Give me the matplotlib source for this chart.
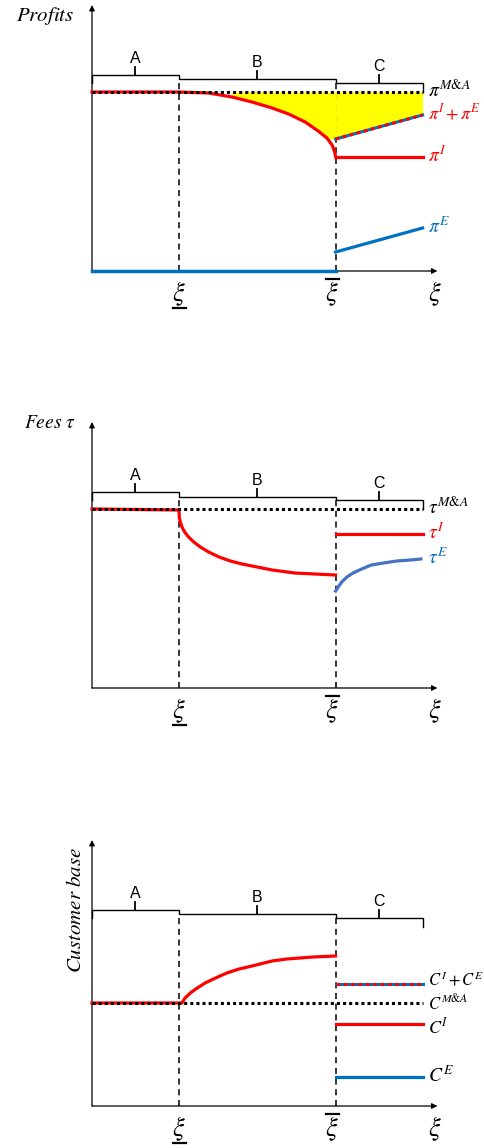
import numpy as np
import matplotlib.pyplot as plt

plt.rcParams['mathtext.fontset'] = 'stix'

W, H = 485, 1148

# thresholds on the xi axis (units of the lower threshold)
xi_lo = 1.0
xi_hi = 2.8
xi_end = 3.8
x_top = 3.97
y_top = 266
regions = ['A', 'B', 'C']
region_mid = [0.5, 1.9, 3.3]

# --- panel 1: profits
prof_ma = 179
prof_red_x = [0.0, 1.0, 1.34, 1.61, 1.84, 2.07, 2.26, 2.45, 2.60, 2.70, 2.76, 2.79, 2.8]
prof_red_y = [179, 179, 178, 174, 169, 163, 157, 149, 140, 133, 126, 119, 114]
prof_sum = [132, 156]
prof_inc = [114, 114]
prof_ent = [19, 43]
prof_ent_ab = [0, 0]
prof_brace = [196, 192, 188]

# --- panel 2: fees
fee_ma = 179
fee_red_x = [0.0, 1.0, 1.003, 1.015, 1.034, 1.065, 1.11, 1.17, 1.245, 1.34, 1.46,
             1.59, 1.725, 1.84, 2.07, 2.33, 2.56, 2.8]
fee_red_y = [179, 178, 171, 166, 161, 156, 151, 146, 141, 136, 131,
             127, 124, 122, 118, 115, 114, 113]
fee_inc = [154, 154]
fee_ent_x = [2.80, 2.83, 2.87, 2.93, 3.0, 3.10, 3.21, 3.35, 3.50, 3.66, 3.78]
fee_ent_y = [97, 101, 106, 111, 115, 119, 123, 125, 127, 128, 129]
fee_brace = [196, 191, 188]

# --- panel 3: customer base
cust_ma = 103
cust_red_x = [0.0, 1.0, 1.034, 1.07, 1.13, 1.21, 1.30, 1.42, 1.55, 1.69, 1.84,
              1.93, 2.07, 2.24, 2.54, 2.8]
cust_red_y = [103, 103, 103, 108, 113, 118, 123, 128, 133, 137, 140,
              142, 145, 147, 149, 150]
cust_sum = [122, 122]
cust_inc = [82, 82]
cust_ent = [29, 29]
cust_brace = [196, 192, 188]

RED = '#FF0000'
BLUE = '#0070C0'
BLUE2 = '#4472C4'

fig = plt.figure(figsize=(W / 100, H / 100), dpi=100)


def make_ax(top, bottom, axis_px):
    ax = fig.add_axes([0, 1 - bottom / H, 1, (bottom - top) / H])
    ax.set_xlim(-92 / 87, (W - 92) / 87)
    ax.set_ylim(axis_px - bottom, axis_px - top)
    ax.axis('off')
    return ax


def frame(ax, brace):
    # axes with arrows
    ap = dict(arrowstyle='-|>', color='black', lw=0.9, mutation_scale=8,
              shrinkA=0, shrinkB=0)
    ax.annotate('', xy=(x_top, 0), xytext=(0, 0), arrowprops=ap)
    ax.annotate('', xy=(0, y_top), xytext=(0, 0), arrowprops=ap)
    # regime braces
    bx = [0, 0, xi_lo, xi_lo, xi_hi, xi_hi, xi_end, xi_end]
    by = [brace[0] - 8, brace[0], brace[0], brace[1], brace[1], brace[2], brace[2],
          brace[2] - 9]
    ax.plot(bx, by, color='black', lw=1.0, solid_joinstyle='miter')
    for xm, b, name in zip(region_mid, brace, regions):
        ax.plot([xm, xm], [b, b + 8], color='black', lw=1.3)
        ax.text(xm, b + 9, name, ha='center', va='bottom', fontsize=11.5,
                family='Liberation Sans')
    # thresholds
    for xv in [xi_lo, xi_hi]:
        ax.plot([xv, xv], [0, brace[2]], color='black', lw=1.1,
                dashes=(4, 3), zorder=1)
    ax.text(xi_lo, -23, r'$\xi$', ha='center', va='center', fontsize=19)
    ax.plot([xi_lo - 0.07, xi_lo + 0.08], [-37, -37], color='black', lw=1.6)
    ax.text(xi_hi - 0.04, -23, r'$\xi$', ha='center', va='center', fontsize=19)
    ax.plot([xi_hi - 0.11, xi_hi + 0.04], [-8, -8], color='black', lw=1.6)
    ax.text(x_top - 0.03, -23, r'$\xi$', ha='center', va='center', fontsize=19)


def dotted(ax, level):
    ax.plot([0, xi_end], [level, level], color='black', lw=2.2,
            dashes=(1, 1), zorder=5)


def label(ax, y, s, color, size=14, drop=5):
    ax.text(xi_end + 0.06, y - drop, s, ha='left', va='baseline', fontsize=size,
            color=color, clip_on=False)


# ---------------- panel 1
ax1 = make_ax(0, 330, 271)
frame(ax1, prof_brace)
rx = np.array(prof_red_x)
ry = np.array(prof_red_y)
ax1.fill_between(rx, np.maximum(ry, prof_sum[0]), prof_ma, where=rx >= 1.4,
                 color='#FFFF00', lw=0, zorder=2)
ax1.fill_between([xi_hi, xi_end], prof_sum, prof_ma, color='#FFFF00', lw=0, zorder=2)
ax1.plot(rx, ry, color=RED, lw=2.3, zorder=4)
ax1.plot([xi_hi, xi_end], prof_inc, color=RED, lw=2.3, zorder=4)
ax1.plot([xi_hi, xi_end], prof_sum, color=BLUE, lw=2.2, zorder=4)
ax1.plot([xi_hi, xi_end], prof_sum, color=RED, lw=2.2, dashes=(1.2, 1.2), zorder=4)
ax1.plot([0, xi_hi], prof_ent_ab, color=BLUE, lw=2.5, zorder=4)
ax1.plot([xi_hi, xi_end], prof_ent, color=BLUE, lw=2.3, zorder=4)
dotted(ax1, prof_ma)
label(ax1, prof_ma, r'$\pi^{M&A}$', 'black')
label(ax1, prof_sum[1], r'$\pi^{I}+\pi^{E}$', RED, 13)
label(ax1, prof_inc[1], r'$\pi^{I}$', RED)
label(ax1, prof_ent[1], r'$\pi^{E}$', BLUE)
ax1.text(-0.54, 255, r'$Profits$', ha='center', va='center', fontsize=15)

# ---------------- panel 2
ax2 = make_ax(330, 760, 688)
frame(ax2, fee_brace)
ax2.plot(fee_red_x, fee_red_y, color=RED, lw=2.3, zorder=4)
ax2.plot([xi_hi, xi_end], fee_inc, color=RED, lw=2.3, zorder=4)
ax2.plot(fee_ent_x, fee_ent_y, color=BLUE2, lw=2.3, zorder=4)
dotted(ax2, fee_ma)
label(ax2, fee_ma, r'$\tau^{M&A}$', 'black')
label(ax2, fee_inc[1], r'$\tau^{I}$', RED)
label(ax2, fee_ent_y[-1], r'$\tau^{E}$', BLUE)
ax2.text(-0.48, 265, r'$Fees\ \tau$', ha='center', va='center', fontsize=14)

# ---------------- panel 3
ax3 = make_ax(760, 1148, 1106)
frame(ax3, cust_brace)
ax3.plot(cust_red_x, cust_red_y, color=RED, lw=2.3, zorder=4)
ax3.plot([xi_hi, xi_end], cust_sum, color=BLUE, lw=2.2, zorder=4)
ax3.plot([xi_hi, xi_end], cust_sum, color=RED, lw=2.2, dashes=(1.2, 1.2), zorder=4)
ax3.plot([xi_hi, xi_end], cust_inc, color=RED, lw=2.3, zorder=4)
ax3.plot([xi_hi, xi_end], cust_ent, color=BLUE, lw=2.3, zorder=4)
dotted(ax3, cust_ma)
label(ax3, cust_sum[1], r'$C^{I}+C^{E}$', 'black', 12, drop=2)
label(ax3, cust_ma, r'$C^{M&A}$', 'black', 12, drop=6)
label(ax3, cust_inc[1], r'$C^{I}$', 'black', 13, drop=9)
label(ax3, cust_ent[1], r'$C^{E}$', 'black')
ax3.text(-0.2, 196, r'$Customer\ base$', ha='center', va='center',
         fontsize=15, rotation=90)

fig.savefig('out.png', dpi=100)
